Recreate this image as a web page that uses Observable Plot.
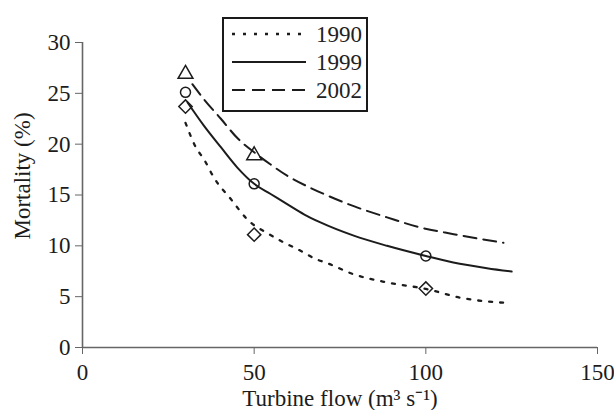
<!DOCTYPE html>
<html><head><meta charset="utf-8">
<script src="https://cdn.jsdelivr.net/npm/d3@7"></script>
<script src="https://cdn.jsdelivr.net/npm/@observablehq/plot@0.6"></script>
<style>
html,body{margin:0;padding:0;background:#fff;}
#wrap{position:relative;width:614px;height:410px;font-family:"Liberation Serif","Times New Roman",serif;color:#222;}
#legend{position:absolute;left:222px;top:17px;width:146px;height:95px;border:2px solid #1a1a1a;box-sizing:border-box;background:#fff;}
.row{position:absolute;left:8px;height:28px;display:flex;align-items:center;font-size:23px;line-height:1;}
.row svg{display:block;margin-right:10px;}
</style>
</head><body>
<div id="wrap"></div>
<script>
// Fitted curves
const flow1990 = [30, 33, 35.4, 38.3, 43.2, 48, 54.3, 57.7, 64.5, 67.9, 70.8, 79, 88.7, 100.3, 110, 124];
const mort1990 = [22.1, 19.7, 18.5, 16.7, 14.6, 12.6, 11.15, 10.5, 9.34, 8.7, 8.36, 7.2, 6.4, 5.74, 4.9, 4.37];
const flow1999 = [30.6, 35.4, 40.3, 45.1, 50, 54.8, 59.6, 64.5, 69.3, 79, 88.7, 100, 108, 117.8, 125];
const mort1999 = [24.1, 21.8, 19.7, 17.7, 16.1, 15.1, 14.1, 13.1, 12.3, 11.0, 10.0, 9.0, 8.36, 7.8, 7.47];
const flow2002 = [32, 35.4, 40.3, 45.1, 50, 54.8, 59.6, 66.4, 70.3, 79, 88.7, 98.4, 108.1, 122.6];
const mort2002 = [25.9, 24.4, 22.5, 20.6, 19.2, 18.0, 16.9, 15.7, 15.1, 13.9, 12.8, 11.8, 11.15, 10.3];
// Observed points
const obsFlow1990 = [30, 50, 100];
const obs1990 = [23.7, 11.1, 5.8];
const obsFlow1999 = [30, 50, 100];
const obs1999 = [25.1, 16.1, 9.0];
const obsFlow2002 = [30, 50];
const obs2002 = [26.9, 18.9];

const years = ["1990", "1999", "2002"];
const xTicks = [0, 50, 100, 150];
const yTicks = [0, 5, 10, 15, 20, 25, 30];
const xLabel = "Turbine flow (m\u00b3 s\u207b\u00b9)";
const yLabel = "Mortality (%)";

const dashes = {"1990": "3,8", "1999": null, "2002": "13,7"};
const symbols = {"1990": "diamond2", "1999": "circle", "2002": "triangle"};
const sizes = {"1990": 6, "1999": 5, "2002": 5.5};

const curves = [
  {year: "1990", xs: flow1990, ys: mort1990},
  {year: "1999", xs: flow1999, ys: mort1999},
  {year: "2002", xs: flow2002, ys: mort2002}
];
const obs = [
  {year: "1990", xs: obsFlow1990, ys: obs1990},
  {year: "1999", xs: obsFlow1999, ys: obs1999},
  {year: "2002", xs: obsFlow2002, ys: obs2002}
];
const toRows = (s) => s.xs.map((x, i) => ({x, y: s.ys[i], year: s.year}));

const ink = "#1c1c1c";
const marks = [
  Plot.ruleX([0], {stroke: "#666", strokeWidth: 1.6}),
  Plot.ruleY([0], {stroke: "#666", strokeWidth: 1.6}),
  Plot.axisX({ticks: xTicks, tickSize: 7, tickPadding: 9, label: null, stroke: "#666", fill: ink}),
  Plot.axisY({ticks: yTicks, tickSize: 7, tickPadding: 5, label: null, stroke: "#666", fill: ink}),
  Plot.text([xLabel], {frameAnchor: "bottom", textAnchor: "middle", dy: 58, fill: ink, fontSize: 23}),
  Plot.text([yLabel], {frameAnchor: "left", textAnchor: "middle", rotate: -90, dx: -60, dy: -19, fill: ink, fontSize: 23})
];
for (const c of curves) {
  marks.push(Plot.line(toRows(c), {x: "x", y: "y", curve: "monotone-x", stroke: ink,
    strokeWidth: c.year === "1990" ? 2.3 : 2, strokeDasharray: dashes[c.year]}));
}
for (const o of obs) {
  marks.push(Plot.dot(toRows(o), {x: "x", y: "y", symbol: () => symbols[o.year], r: sizes[o.year],
    stroke: ink, strokeWidth: 1.5, fill: "none"}));
}

const chart = Plot.plot({
  width: 614, height: 410,
  marginLeft: 82, marginRight: 17, marginTop: 42, marginBottom: 63,
  x: {domain: [0, 150], axis: null},
  y: {domain: [0, 30], axis: null},
  symbol: {type: "identity"},
  style: {fontFamily: "'Liberation Serif','Times New Roman',serif", fontSize: "23px", background: "white", color: ink},
  marks
});
const wrap = document.getElementById("wrap");
wrap.appendChild(chart);

// Legend
const legend = document.createElement("div");
legend.id = "legend";
years.forEach((yr, i) => {
  const row = document.createElement("div");
  row.className = "row";
  row.style.top = (1 + i * 28) + "px";
  const d = dashes[yr];
  row.innerHTML = `<svg width="74" height="6"><line x1="0" x2="74" y1="3" y2="3" stroke="${ink}" stroke-width="${yr === "1990" ? 2.3 : 2}" ${d ? `stroke-dasharray="${d}"` : ""}/></svg><span>${yr}</span>`;
  legend.appendChild(row);
});
wrap.appendChild(legend);
</script>
</body></html>
